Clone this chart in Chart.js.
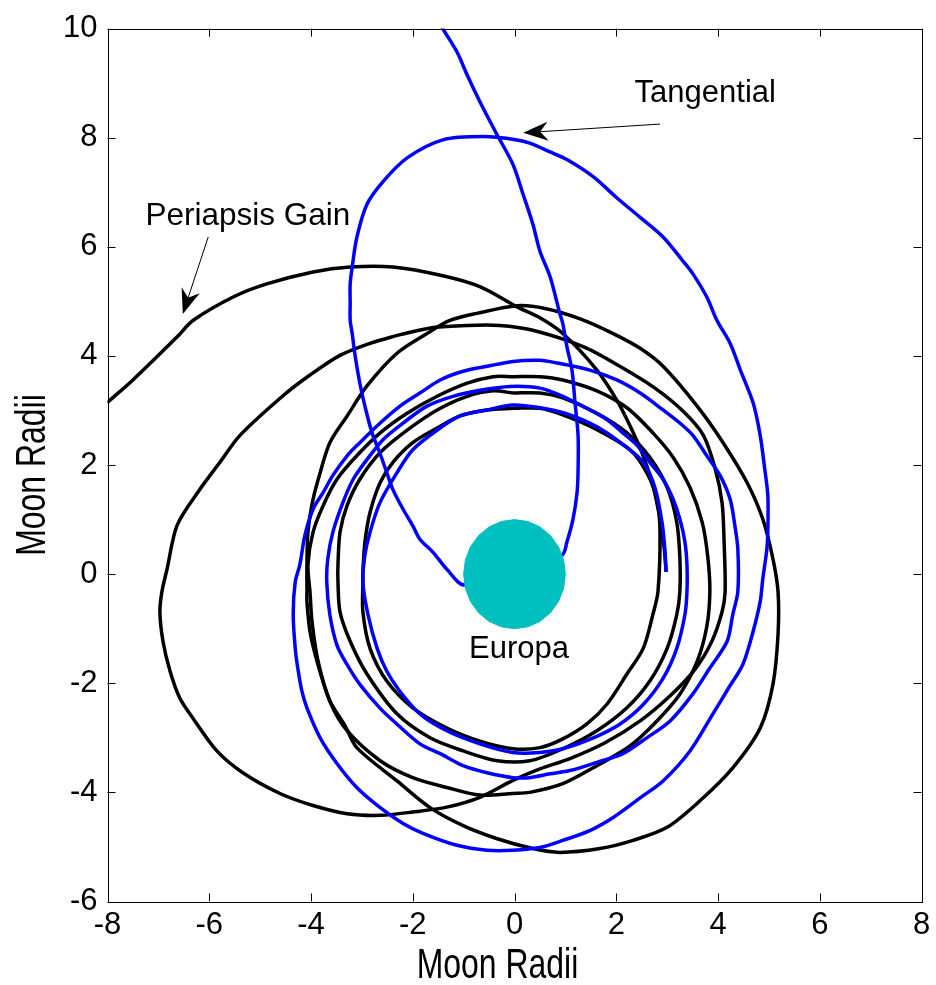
<!DOCTYPE html>
<html><head><meta charset="utf-8">
<script src="https://cdn.jsdelivr.net/npm/chart.js@4.4.1/dist/chart.umd.min.js"></script>
<style>html,body{margin:0;padding:0;background:#fff;}#wrap{width:936px;height:985px;position:relative;}</style>
</head><body><div id="wrap"><canvas id="c" width="936" height="985"></canvas></div>
<script>
// ---- axis ticks ----
const xTicks = [-8,-6,-4,-2,0,2,4,6,8];
const yTicks = [-6,-4,-2,0,2,4,6,8,10];
const xTitle = 'Moon Radii';
const yTitle = 'Moon Radii';

// ---- Tangential trajectory (blue) ----
const tangentialApproach = [[-1.43,10.05],[-1.41,10.0],[-1.13,9.57],[-0.93,9.15],[-0.68,8.66],[-0.34,8.05],[-0.03,7.51],[0.17,6.96],[0.36,6.42],[0.50,5.92],[0.70,5.45],[0.89,4.78],[0.95,4.59],[1.03,4.17],[1.13,3.74],[1.19,3.14],[1.25,2.54],[1.25,1.92],[1.23,1.50],[1.15,1.01],[1.03,0.59],[0.93,0.35],[-0.97,-0.20]];
const tangentialLoop1 = [[-1.33,0.09],[-1.60,0.40],[-1.86,0.64],[-2.00,0.89],[-2.19,1.19],[-2.39,1.55],[-2.51,1.86],[-2.65,2.23],[-2.80,2.59],[-2.94,3.08],[-3.04,3.50],[-3.14,4.05],[-3.19,4.41],[-3.23,4.65],[-3.23,4.96],[-3.23,5.32],[-3.19,5.63],[-3.10,6.17],[-2.90,6.78],[-2.58,7.20],[-2.11,7.63],[-1.41,7.96],[-0.62,8.02],[0.05,7.96],[0.30,7.90],[0.70,7.74],[1.03,7.60],[1.54,7.29],[2.01,6.90],[2.47,6.54],[2.92,6.18],[3.31,5.74],[3.51,5.50],[3.78,5.08],[3.98,4.65],[4.24,4.23],[4.44,3.74],[4.69,3.14],[4.83,2.54],[4.92,1.92],[4.98,1.44],[4.98,0.82],[4.96,0.46],[4.88,-0.09],[4.83,-0.50],[4.69,-1.05],[4.49,-1.65],[4.20,-2.10],[3.90,-2.56],[3.45,-3.24],[2.92,-3.79],[2.47,-4.10],[1.94,-4.46],[1.48,-4.70],[0.95,-4.88],[0.50,-5.01],[-0.03,-5.06],[-0.54,-5.06],[-1.13,-4.97],[-1.80,-4.75],[-2.19,-4.57],[-2.64,-4.28],[-3.10,-3.91],[-3.49,-3.47],[-3.82,-3.00],[-4.08,-2.45],[-4.18,-2.14],[-4.26,-1.72],[-4.31,-1.36],[-4.35,-0.74],[-4.31,-0.14]];
const tangentialLoop2 = [[-4.22,0.17],[-4.12,0.71],[-3.96,1.19],[-3.76,1.50],[-3.57,1.81],[-3.29,2.17],[-3.04,2.41],[-2.64,2.77],[-2.25,3.08],[-1.86,3.32],[-1.46,3.56],[-1.01,3.72],[-0.54,3.81],[-0.03,3.90],[0.50,3.92],[0.84,3.87],[1.48,3.74],[2.01,3.56],[2.47,3.32],[2.92,3.01],[3.25,2.77],[3.51,2.54],[3.78,2.17],[4.04,1.81],[4.24,1.37],[4.33,0.90],[4.39,0.46],[4.39,-0.32],[4.29,-0.74],[4.18,-1.23],[3.84,-1.72],[3.51,-2.19],[3.06,-2.69],[2.60,-3.00],[2.13,-3.29],[1.62,-3.45],[1.09,-3.60],[0.70,-3.66],[0.30,-3.73],[-0.03,-3.73],[-0.54,-3.64],[-1.01,-3.51],[-1.46,-3.29],[-1.86,-3.11],[-2.31,-2.75],[-2.64,-2.46],[-3.04,-2.02],[-3.29,-1.66],[-3.49,-1.30],[-3.63,-0.74],[-3.69,-0.14]];
const tangentialLoop3 = [[-3.67,0.28],[-3.57,0.77],[-3.37,1.32],[-3.17,1.74],[-2.90,2.10],[-2.58,2.47],[-2.19,2.77],[-1.72,3.08],[-1.21,3.26],[-0.68,3.37],[-0.09,3.44],[0.50,3.41],[0.95,3.26],[1.48,3.01],[1.82,2.83],[2.13,2.59],[2.41,2.36],[2.66,2.05],[2.92,1.74],[3.12,1.37],[3.25,1.01],[3.35,0.59],[3.39,0.17],[3.39,-0.32],[3.35,-0.74],[3.19,-1.36],[2.92,-1.91],[2.53,-2.39],[2.07,-2.75],[1.48,-3.03],[0.95,-3.20],[0.50,-3.27],[-0.03,-3.27],[-0.68,-3.11],[-1.33,-2.87],[-1.86,-2.56],[-2.25,-2.15],[-2.51,-1.78],[-2.70,-1.36],[-2.88,-0.74],[-2.98,-0.14]];
const tangentialLoop4 = [[-2.94,0.35],[-2.84,0.77],[-2.64,1.32],[-2.31,1.86],[-2.00,2.28],[-1.52,2.64],[-1.07,2.90],[-0.54,3.01],[-0.03,3.10],[0.50,3.05],[0.99,2.95],[1.48,2.77],[1.82,2.59],[2.21,2.32],[2.53,2.05],[2.76,1.59],[2.90,0.95],[2.96,0.40],[2.98,0.04]];

// ---- Periapsis Gain trajectory (black) ----
const periapsisApproach = [[-8.2,2.97],[-8.01,3.14],[-7.50,3.56],[-6.63,4.35],[-6.32,4.65],[-5.53,5.08],[-4.87,5.32],[-3.96,5.54],[-3.23,5.63],[-2.39,5.63],[-1.41,5.47],[-0.68,5.27],[0.05,4.90],[0.50,4.70],[0.95,4.41],[1.62,3.74],[2.01,3.19],[2.27,2.72],[2.53,2.17],[2.72,1.63],[2.86,1.01],[2.94,0.50],[2.98,0.04]];
const periapsisOrbitA = [[-4.08,-0.32],[-4.08,0.17],[-4.06,0.77],[-3.96,1.37],[-3.82,1.86],[-3.63,2.41],[-3.29,2.90],[-2.90,3.45],[-2.31,4.05],[-1.72,4.41],[-1.27,4.65],[-0.74,4.78],[0.05,4.92],[0.60,4.87],[1.29,4.68],[1.94,4.41],[2.47,4.14],[2.92,3.81],[3.59,3.08],[4.10,2.41],[4.57,1.68],[4.88,1.01],[5.08,0.28],[5.18,-0.32],[5.18,-1.11],[5.08,-2.02],[4.83,-2.82],[4.29,-3.55],[3.65,-4.15],[3.00,-4.64],[2.33,-4.88],[1.68,-5.03],[0.89,-5.10],[0.36,-5.03],[-0.34,-4.85],[-1.01,-4.61],[-1.66,-4.28],[-2.31,-3.79],[-3.10,-3.18],[-3.33,-2.78],[-3.63,-2.32],[-3.88,-1.60],[-4.02,-1.05],[-4.08,-0.51],[-4.08,-0.32]];
const periapsisOrbitB = [[-2.25,4.39],[-1.60,4.52],[-0.93,4.56],[-0.29,4.56],[0.36,4.47],[1.35,4.17],[2.07,3.81],[2.76,3.41],[3.31,2.99],[3.71,2.55],[3.94,1.95],[4.08,1.31],[4.12,0.59],[4.14,-0.32],[4.08,-0.69],[3.88,-1.23],[3.55,-1.74],[3.06,-2.23],[2.47,-2.69],[1.78,-3.09],[1.09,-3.38],[0.50,-3.57],[-0.03,-3.78],[-0.68,-4.09],[-1.33,-4.27],[-2.00,-4.36],[-2.64,-4.42],[-3.29,-4.39],[-3.96,-4.24],[-4.61,-4.02],[-5.34,-3.64],[-5.85,-3.24],[-6.32,-2.64],[-6.58,-2.27],[-6.77,-1.78],[-6.91,-1.23],[-6.97,-0.69],[-6.93,-0.32],[-6.83,0.09],[-6.63,0.90],[-6.18,1.56],[-5.79,2.05],[-5.40,2.54],[-4.55,3.27],[-4.02,3.65],[-3.43,4.01],[-2.84,4.23],[-2.25,4.39]];
const periapsisRing3 = [[-0.03,3.62],[0.50,3.62],[0.95,3.56],[1.62,3.36],[2.21,3.05],[2.72,2.59],[3.12,2.14],[3.45,1.59],[3.69,0.95],[3.80,0.31],[3.84,-0.32],[3.78,-0.96],[3.59,-1.60],[3.25,-2.20],[2.80,-2.69],[2.27,-3.15],[1.62,-3.51],[0.95,-3.84],[0.30,-4.00],[-0.03,-4.02],[-0.68,-4.05],[-1.33,-3.91],[-2.00,-3.73],[-2.64,-3.42],[-3.29,-2.87],[-3.63,-2.33],[-3.86,-1.60],[-3.98,-0.87],[-4.02,-0.32],[-4.06,0.17],[-3.96,0.77],[-3.76,1.26],[-3.49,1.74],[-3.10,2.17],[-2.64,2.59],[-2.11,2.95],[-1.52,3.26],[-0.93,3.50],[-0.42,3.62],[-0.03,3.62]];
const periapsisRing2 = [[-0.03,3.32],[0.50,3.32],[0.95,3.23],[1.62,2.95],[2.21,2.59],[2.66,2.14],[3.00,1.59],[3.19,0.95],[3.25,0.31],[3.25,-0.32],[3.19,-0.74],[3.00,-1.36],[2.66,-1.96],[2.21,-2.45],[1.62,-2.87],[0.95,-3.20],[0.30,-3.42],[-0.34,-3.42],[-1.01,-3.24],[-1.66,-3.00],[-2.31,-2.56],[-2.90,-1.83],[-3.23,-1.23],[-3.43,-0.69],[-3.47,-0.14],[-3.47,0.17],[-3.43,0.77],[-3.29,1.26],[-3.04,1.74],[-2.64,2.23],[-2.11,2.64],[-1.52,3.01],[-0.93,3.26],[-0.42,3.36],[-0.03,3.32]];
const periapsisRing1 = [[-0.03,3.04],[0.50,3.04],[0.95,2.92],[1.62,2.65],[2.27,2.28],[2.60,1.86],[2.80,1.37],[2.86,0.77],[2.82,-0.32],[2.72,-0.74],[2.53,-1.36],[2.21,-1.83],[1.82,-2.38],[1.43,-2.74],[0.95,-3.02],[0.50,-3.18],[-0.03,-3.20],[-0.68,-3.06],[-1.33,-2.82],[-2.00,-2.45],[-2.51,-1.96],[-2.84,-1.36],[-2.98,-0.69],[-2.98,-0.14],[-2.98,0.04],[-2.94,0.59],[-2.84,1.13],[-2.64,1.68],[-2.39,2.05],[-2.00,2.41],[-1.52,2.68],[-1.07,2.90],[-0.54,3.01],[-0.03,3.04]];

// ---- Europa (unit-radius disk outline) ----
const europaOutline = [[1,0],[0.966,0.259],[0.866,0.5],[0.707,0.707],[0.5,0.866],[0.259,0.966],[0,1],[-0.259,0.966],[-0.5,0.866],[-0.707,0.707],[-0.866,0.5],[-0.966,0.259],[-1,0],[-0.966,-0.259],[-0.866,-0.5],[-0.707,-0.707],[-0.5,-0.866],[-0.259,-0.966],[0,-1],[0.259,-0.966],[0.5,-0.866],[0.707,-0.707],[0.866,-0.5],[0.966,-0.259],[1,0]];

// ---- text annotations ----
const labels = [
  {text:'Tangential', at:[3.75,8.81]},
  {text:'Periapsis Gain', at:[-5.24,6.56]},
  {text:'Europa', at:[0.09,-1.38]}
];
const arrows = [
  {from:[2.86,8.25], to:[0.17,8.09]},
  {from:[-6.02,6.18], to:[-6.52,4.77]}
];

const pts = a => a.map(p => ({x:p[0], y:p[1]}));
const FONT = "'Liberation Sans', Arial, Helvetica, sans-serif";

function lineSet(data, color, order){
  return {data: pts(data), showLine:true, borderColor:color, backgroundColor:color, borderWidth:3.5,
          pointRadius:0, pointHoverRadius:0, tension:0.3, fill:false, order:order, clip:0};
}

const frame = {
  id:'frame',
  afterDatasetsDraw(chart){
    const {ctx, chartArea:a, scales:{x, y}} = chart;
    ctx.save();
    ctx.strokeStyle = '#000'; ctx.lineWidth = 1;
    ctx.strokeRect(Math.round(a.left)+0.5, Math.round(a.top)+0.5, Math.round(a.right-a.left), Math.round(a.bottom-a.top));
    ctx.beginPath();
    const L = 8;
    xTicks.forEach(v => { const px = Math.round(x.getPixelForValue(v))+0.5;
      ctx.moveTo(px, a.bottom); ctx.lineTo(px, a.bottom-L); ctx.moveTo(px, a.top); ctx.lineTo(px, a.top+L); });
    yTicks.forEach(v => { const py = Math.round(y.getPixelForValue(v))+0.5;
      ctx.moveTo(a.left, py); ctx.lineTo(a.left+L, py); ctx.moveTo(a.right, py); ctx.lineTo(a.right-L, py); });
    ctx.stroke();
    ctx.fillStyle = '#000';
    ctx.textAlign = 'center'; ctx.textBaseline = 'middle';
    labels.forEach(l => {
      ctx.font = (l.text === 'Periapsis Gain' ? '31.5px ' : '31px ') + FONT;
      ctx.fillText(l.text, x.getPixelForValue(l.at[0]), y.getPixelForValue(l.at[1]));
    });
    arrows.forEach(ar => {
      const x0 = x.getPixelForValue(ar.from[0]), y0 = y.getPixelForValue(ar.from[1]);
      const x1 = x.getPixelForValue(ar.to[0]), y1 = y.getPixelForValue(ar.to[1]);
      const ang = Math.atan2(y1-y0, x1-x0);
      const hl = 25, hw = 9.5, notch = 8;
      const ux = Math.cos(ang), uy = Math.sin(ang);
      ctx.beginPath(); ctx.lineWidth = 1;
      ctx.moveTo(x0, y0); ctx.lineTo(x1 - ux*notch, y1 - uy*notch); ctx.stroke();
      ctx.beginPath();
      ctx.moveTo(x1, y1);
      ctx.lineTo(x1 - ux*hl - uy*hw, y1 - uy*hl + ux*hw);
      ctx.lineTo(x1 - ux*(hl-notch), y1 - uy*(hl-notch));
      ctx.lineTo(x1 - ux*hl + uy*hw, y1 - uy*hl - ux*hw);
      ctx.closePath(); ctx.fill();
    });
    ctx.font = '42px ' + FONT;
    ctx.save(); ctx.translate(497.5, 966); ctx.scale(0.76, 1); ctx.fillText(xTitle, 0, 0); ctx.restore();
    ctx.save(); ctx.translate(33, 475); ctx.rotate(-Math.PI/2); ctx.scale(0.76, 1); ctx.fillText(yTitle, 0, 0); ctx.restore();
    ctx.restore();
  }
};

new Chart(document.getElementById('c'), {
  type:'scatter',
  data:{datasets:[
    {...lineSet(europaOutline, 'rgb(0,191,191)', 0), borderWidth:1, tension:0, fill:'shape'},
    lineSet([...tangentialApproach, ...tangentialLoop1, ...tangentialLoop2, ...tangentialLoop3, ...tangentialLoop4], '#0000ff', 1),
    lineSet(periapsisApproach, '#000000', 2),
    lineSet(periapsisOrbitA, '#000000', 2),
    lineSet(periapsisOrbitB, '#000000', 2),
    lineSet(periapsisRing3, '#000000', 2),
    lineSet(periapsisRing2, '#000000', 2),
    lineSet(periapsisRing1, '#000000', 2)
  ]},
  options:{
    responsive:false, animation:false, devicePixelRatio:1,
    layout:{padding:{left:0, right:14.5, top:22.5, bottom:0}},
    plugins:{legend:{display:false}, tooltip:{enabled:false}},
    scales:{
      x:{type:'linear', min:-8, max:8,
         afterBuildTicks:s => { s.ticks = xTicks.map(v => ({value:v})); },
         afterFit:s => { s.height = 83.5; },
         grid:{display:false, drawTicks:false}, border:{display:false},
         ticks:{padding:5, color:'#000', font:{family:FONT, size:31}, maxRotation:0, autoSkip:false}},
      y:{type:'linear', min:-6, max:10,
         afterBuildTicks:s => { s.ticks = yTicks.map(v => ({value:v})); },
         afterFit:s => { s.width = 107.5; },
         grid:{display:false, drawTicks:false}, border:{display:false},
         ticks:{padding:10, color:'#000', font:{family:FONT, size:31}, autoSkip:false}}
    }
  },
  plugins:[frame]
});
</script></body></html>
